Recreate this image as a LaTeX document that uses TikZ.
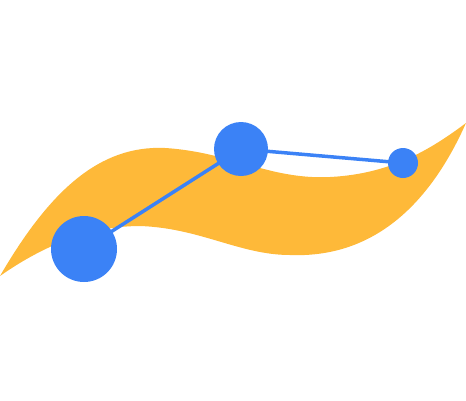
\documentclass[tikz,border=0pt]{standalone}
\definecolor{swoosh}{RGB}{254,185,57}
\definecolor{dotblue}{RGB}{59,130,246}
\pgfdeclarelayer{swooshlayer}
\pgfdeclarelayer{linklayer}
\pgfsetlayers{swooshlayer,linklayer,main}
\begin{document}
\begin{tikzpicture}[x=1pt,y=-1pt,
  dot/.style={circle,fill=dotblue,inner sep=0pt,minimum size=#1},
  link/.style={draw=dotblue,line width=3.5pt}]
\useasboundingbox (0,0) rectangle (466,400);
\begin{pgfonlayer}{swooshlayer}
\fill[swoosh] (0,276) .. controls (50,190) and (100,145) .. (165,148)
  .. controls (230,152) and (270,180) .. (330,177)
  .. controls (390,174) and (430,150) .. (466,123)
  .. controls (425,215) and (365,258) .. (290,255)
  .. controls (240,255) and (200,228) .. (140,226)
  .. controls (80,226) and (30,255) .. (0,276) -- cycle;
\end{pgfonlayer}
\node[dot=66pt] (a) at (84,249) {};
\node[dot=54pt] (b) at (241,149) {};
\node[dot=30pt] (c) at (403,163) {};
\begin{pgfonlayer}{linklayer}
\draw[link] (a.center) -- (b.center) -- (c.center);
\end{pgfonlayer}
\end{tikzpicture}
\end{document}
